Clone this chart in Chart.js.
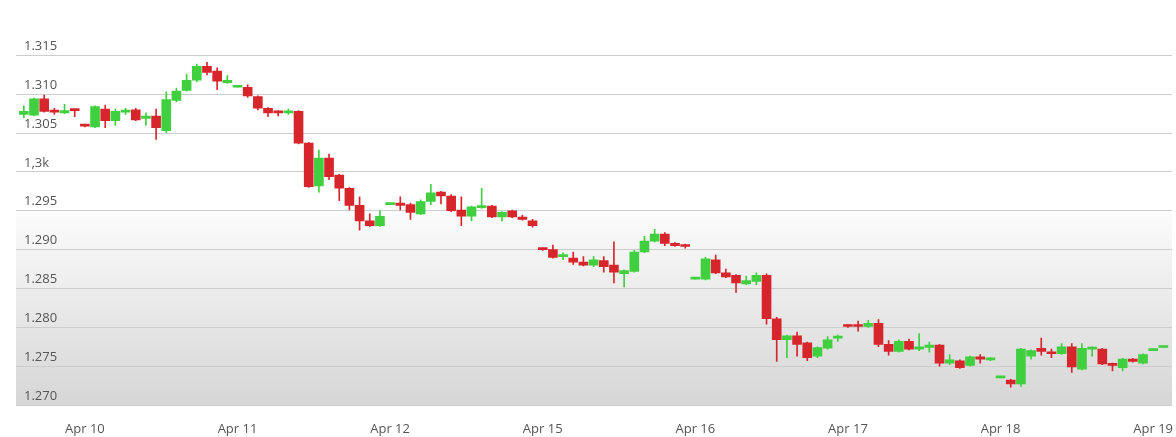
<!DOCTYPE html>
<html><head><meta charset="utf-8">
<script src="https://cdn.jsdelivr.net/npm/chart.js@4/dist/chart.umd.min.js"></script>
<style>html,body{margin:0;padding:0;background:#fff}#w{width:1176px;height:437px}</style>
</head><body><div id="w"><canvas id="c"></canvas></div>
<script>
const openP=[1.3074,1.3073,1.3094,1.3078,1.3076,1.3081,1.3061,1.3058,1.3081,1.3066,1.3077,1.3080,1.3069,1.3072,1.3053,1.3092,1.3105,1.3118,1.3136,1.3130,1.3115,1.3109,1.3109,1.3097,1.3082,1.3078,1.3076,1.3078,1.3037,1.2982,1.3018,1.2996,1.2979,1.2957,1.2937,1.2931,1.2958,1.2960,1.2958,1.2946,1.2962,1.2974,1.2969,1.2951,1.2943,1.2954,1.2956,1.2942,1.2950,1.2942,1.2937,1.2901,1.2900,1.2891,1.2889,1.2884,1.2880,1.2886,1.2880,1.2869,1.2872,1.2897,1.2911,1.2920,1.2908,1.2905,1.2862,1.2862,1.2887,1.2870,1.2867,1.2856,1.2859,1.2867,1.2811,1.2784,1.2789,1.2780,1.2763,1.2773,1.2786,1.2803,1.2803,1.2801,1.2805,1.2778,1.2769,1.2782,1.2772,1.2774,1.2777,1.2754,1.2757,1.2751,1.2762,1.2758,1.2735,1.2732,1.2727,1.2763,1.2773,1.2768,1.2766,1.2775,1.2746,1.2772,1.2772,1.2753,1.2748,1.2759,1.2754,1.2770,1.2774];
const closeP=[1.3078,1.3094,1.3078,1.3077,1.3079,1.3079,1.3059,1.3084,1.3066,1.3078,1.3079,1.3067,1.3072,1.3057,1.3093,1.3104,1.3118,1.3136,1.3128,1.3117,1.3118,1.3110,1.3098,1.3082,1.3076,1.3076,1.3078,1.3037,1.2981,1.3018,1.2994,1.2979,1.2957,1.2937,1.2931,1.2943,1.2959,1.2957,1.2948,1.2962,1.2973,1.2969,1.2950,1.2943,1.2955,1.2956,1.2942,1.2948,1.2942,1.2939,1.2931,1.2900,1.2890,1.2892,1.2884,1.2880,1.2887,1.2878,1.2871,1.2873,1.2897,1.2911,1.2920,1.2908,1.2905,1.2904,1.2863,1.2888,1.2870,1.2865,1.2857,1.2860,1.2867,1.2811,1.2784,1.2789,1.2778,1.2761,1.2774,1.2784,1.2788,1.2801,1.2801,1.2805,1.2778,1.2769,1.2782,1.2772,1.2775,1.2777,1.2754,1.2758,1.2748,1.2762,1.2759,1.2760,1.2736,1.2727,1.2772,1.2770,1.2769,1.2766,1.2775,1.2749,1.2773,1.2774,1.2753,1.2751,1.2759,1.2756,1.2765,1.2771,1.2775];
const highP=[1.3085,1.3095,1.3099,1.3082,1.3087,1.3081,1.3061,1.3085,1.3086,1.3081,1.3082,1.3082,1.3076,1.3081,1.3103,1.3108,1.3126,1.3139,1.3141,1.3134,1.3124,1.3110,1.3112,1.3098,1.3083,1.3079,1.3081,1.3079,1.3038,1.3028,1.3023,1.2997,1.2980,1.2968,1.2946,1.2950,1.2959,1.2968,1.2960,1.2964,1.2984,1.2975,1.2971,1.2968,1.2956,1.2979,1.2957,1.2949,1.2951,1.2944,1.2939,1.2902,1.2906,1.2896,1.2897,1.2891,1.2891,1.2891,1.2910,1.2874,1.2899,1.2917,1.2926,1.2922,1.2909,1.2907,1.2863,1.2890,1.2893,1.2875,1.2868,1.2866,1.2870,1.2869,1.2813,1.2790,1.2794,1.2781,1.2775,1.2788,1.2790,1.2804,1.2808,1.2809,1.2810,1.2783,1.2784,1.2785,1.2792,1.2781,1.2778,1.2765,1.2758,1.2763,1.2765,1.2761,1.2736,1.2733,1.2773,1.2771,1.2786,1.2772,1.2779,1.2779,1.2779,1.2775,1.2773,1.2754,1.2760,1.2760,1.2766,1.2771,1.2775];
const lowP=[1.3070,1.3072,1.3077,1.3074,1.3075,1.3071,1.3058,1.3057,1.3057,1.3060,1.3074,1.3066,1.3060,1.3042,1.3051,1.3090,1.3104,1.3116,1.3125,1.3106,1.3114,1.3109,1.3096,1.3080,1.3071,1.3072,1.3074,1.3036,1.2980,1.2974,1.2990,1.2963,1.2951,1.2925,1.2930,1.2930,1.2958,1.2951,1.2939,1.2945,1.2958,1.2959,1.2949,1.2931,1.2937,1.2953,1.2941,1.2937,1.2941,1.2938,1.2929,1.2899,1.2889,1.2887,1.2881,1.2879,1.2878,1.2871,1.2857,1.2852,1.2871,1.2896,1.2910,1.2905,1.2904,1.2902,1.2862,1.2861,1.2869,1.2864,1.2845,1.2855,1.2855,1.2804,1.2756,1.2761,1.2763,1.2757,1.2761,1.2772,1.2782,1.2800,1.2795,1.2800,1.2775,1.2764,1.2768,1.2771,1.2770,1.2768,1.2750,1.2752,1.2747,1.2750,1.2754,1.2757,1.2735,1.2723,1.2724,1.2759,1.2764,1.2761,1.2765,1.2742,1.2745,1.2763,1.2752,1.2744,1.2744,1.2755,1.2753,1.2770,1.2774];
const dayLabels=['Apr 10','Apr 11','Apr 12','Apr 15','Apr 16','Apr 17','Apr 18','Apr 19'];
const dayTickIndex=[6,21,36,51,66,81,96,111];
const yTicks=[1.270,1.275,1.280,1.285,1.290,1.295,1.300,1.305,1.310,1.315];

const UP='#3fcf3f', DOWN='#d6262c';
const bodies=openP.map((o,i)=>({x:i,y:[o,closeP[i]]}));
const wicks=openP.map((o,i)=>({x:i,y:[lowP[i],highP[i]]}));
const colr=ctx=>{const i=ctx.dataIndex;return closeP[i]>=openP[i]?UP:DOWN;};

const bgPlugin={id:'bg',beforeDraw(ch){const {ctx,chartArea:a}=ch;ctx.save();
 ctx.fillStyle='#fff';ctx.fillRect(a.left,a.top,a.width,a.height);
 const y0=ch.scales.y.getPixelForValue(1.2945);
 const g=ctx.createLinearGradient(0,y0,0,a.bottom);g.addColorStop(0,'#fbfbfb');g.addColorStop(1,'#d6d6d6');
 ctx.fillStyle=g;ctx.fillRect(a.left,y0,a.width,a.bottom-y0);ctx.restore();}};

new Chart(document.getElementById('c'),{
 type:'bar',
 data:{datasets:[
  {data:bodies,backgroundColor:colr,barThickness:9,minBarLength:2,order:0,grouped:false},
  {data:wicks,backgroundColor:colr,barThickness:1,order:1,grouped:false}
 ]},
 options:{responsive:true,maintainAspectRatio:false,animation:false,
  layout:{padding:{left:0,right:4,top:0,bottom:0}},
  plugins:{legend:{display:false},tooltip:{enabled:false}},
  scales:{
   x:{type:'linear',min:-0.77,max:112.85,offset:false,
    grid:{display:false},border:{display:false},
    afterBuildTicks:s=>{s.ticks=dayTickIndex.map(v=>({value:v}));},
    afterFit:s=>{s.height=32;s.paddingLeft=0;s.paddingRight=0;},
    ticks:{autoSkip:false,maxRotation:0,padding:8,color:'#555',font:{family:'Open Sans',size:13},
     callback:(v)=>dayLabels[dayTickIndex.indexOf(v)]}},
   y:{min:1.270,max:1.3201,position:'left',
    afterBuildTicks:s=>{s.ticks=yTicks.map(v=>({value:v}));},
    grid:{color:'#cdcdcd',lineWidth:1,drawTicks:false},border:{display:false},
    ticks:{mirror:true,padding:8,labelOffset:-9,color:'#555',font:{family:'Open Sans',size:13},
     callback:v=>Math.abs(v-1.3)<1e-9?'1,3k':v.toFixed(3)}}
  }},
 plugins:[bgPlugin]
});
</script></body></html>
